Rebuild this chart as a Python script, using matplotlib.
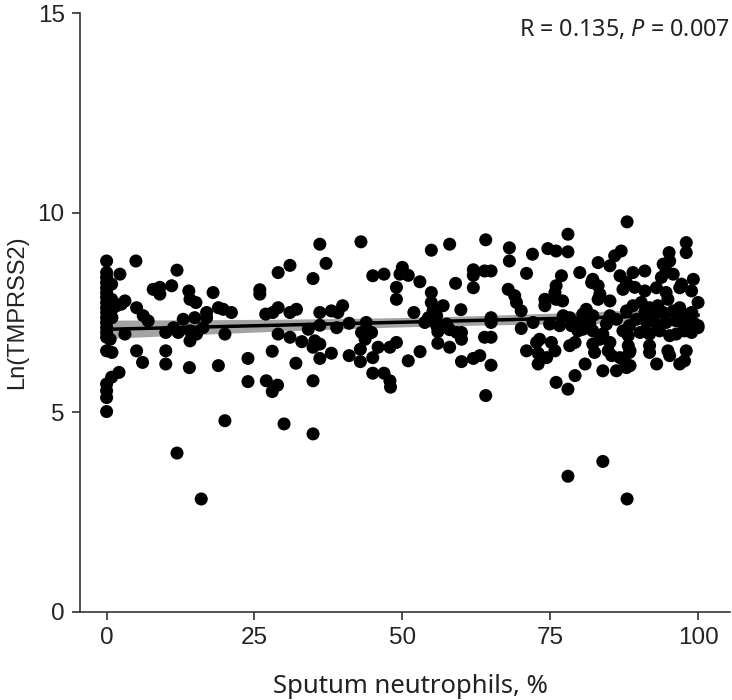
import numpy as np
import matplotlib
matplotlib.use("Agg")
import matplotlib.pyplot as plt

# sputum neutrophils (%) and Ln(TMPRSS2)
neut = [
    0, 0, 0, 0, 0, 0, 0, 0, 0, 0, 0, 0, 0, 0, 0, 0, 0, 0, 0, 0,
    0.85, 0.85, 0.9, 0.9, 0.9, 0.6, 0.85, 2.1, 2.25, 1.7, 2.5, 3.1, 3.1,
    4.95, 5.07, 6.19, 7.03, 5.07, 6.08, 7.88, 9.0, 9.0, 11.0, 10.0, 10.0, 10.0,
    11.3, 12.1, 11.9, 13.9, 14.1, 15.1, 12.95, 14.9, 14.1, 14.1, 15.2, 14.0,
    16.9, 16.9, 16.3, 18.0, 18.9, 19.7, 21.1, 18.9, 20.0, 23.9, 23.9, 20.0, 11.9, 16.0,
    36.05, 43.0, 31.0, 29.0, 37.1, 34.9, 25.9, 25.9, 45.0, 46.9,
    26.9, 28.1, 29.0, 31.0, 32.1, 36.05, 38.0, 39.1, 39.9, 36.05, 34.1, 38.9,
    41.0, 43.9, 43.1, 44.8, 43.7, 29.0, 31.0, 33.0, 35.2, 36.05, 34.9, 28.0,
    32.0, 36.05, 38.0, 41.0, 42.9, 42.9, 45.0, 45.9, 47.9, 49.0, 45.0, 46.9,
    47.9, 48.0, 27.0, 28.9, 28.0, 34.9, 30.0, 34.9,
    54.9, 58.0, 64.1, 68.1, 68.1, 72.0, 74.6, 50.0, 49.6, 51.0, 49.0, 49.0,
    52.96, 62.0, 63.9, 65.0, 62.0, 62.0, 59.0, 71.0, 67.9, 69.0, 69.3, 70.1,
    74.1, 74.1, 54.9, 54.9, 56.9, 55.2, 55.8, 54.4, 51.95, 59.9, 53.8, 55.8,
    57.5, 58.0, 56.0, 59.2, 60.0, 60.0, 56.0, 58.0, 65.0, 65.0, 63.9, 65.0,
    70.1, 72.1, 53.0, 51.0, 60.0, 62.0, 63.1, 65.0, 71.0, 72.7, 72.96, 72.96,
    74.4, 64.1,
    88.0, 78.0, 76.0, 78.0, 87.0, 85.9, 83.1, 85.1, 80.0, 76.9, 76.0, 75.8,
    82.2, 83.1, 82.0, 83.4, 86.8, 87.9, 87.3, 89.0, 89.3, 76.0, 77.1, 83.1,
    85.1, 81.1, 80.5, 82.2, 77.2, 78.3, 76.6, 74.9, 78.6, 80.0, 81.7, 80.5,
    82.2, 79.7, 85.1, 84.5, 86.2, 87.9, 88.4, 87.3, 83.9, 83.4, 85.1, 82.2,
    82.5, 73.2, 75.2, 75.8, 78.3, 79.2, 84.8, 85.4, 86.8, 87.6, 88.4, 88.2,
    80.9, 83.9, 86.2, 87.9, 79.2, 76.0, 78.0, 83.9, 78.0, 88.0,
    98.0, 98.0, 95.1, 95.2, 94.1, 91.0, 94.6, 95.8, 93.8, 99.2, 97.2, 98.9,
    100.0, 91.0, 92.96, 94.6, 94.9, 96.9, 89.0, 90.4, 91.8, 93.2, 91.0, 92.7,
    94.1, 95.8, 96.9, 98.0, 98.9, 89.6, 91.3, 93.0, 94.6, 96.3, 97.5, 99.2,
    100.0, 90.2, 91.8, 93.5, 95.2, 96.3, 97.7, 98.9, 100.0, 88.2, 88.5, 91.8,
    91.8, 94.9, 95.2, 98.0, 97.7, 96.9, 93.0, 88.5,
]
tmprss2 = [
    8.79, 8.5, 8.38, 8.25, 8.12, 8.0, 7.88, 7.75, 7.62, 7.5, 7.37, 7.25, 7.12, 7.0, 6.88, 6.54, 5.71, 5.54, 5.37, 5.02,
    8.21, 7.83, 7.58, 7.37, 6.5, 6.83, 5.88, 6.0, 8.46, 7.67, 7.71, 7.79, 6.96,
    8.79, 7.62, 7.42, 7.29, 6.54, 6.25, 8.08, 8.13, 7.96, 8.17, 7.0, 6.54, 6.21,
    7.12, 7.0, 8.56, 8.04, 7.83, 7.75, 7.33, 7.37, 7.04, 6.79, 6.96, 6.12,
    7.5, 7.37, 7.12, 8.0, 7.62, 7.58, 7.5, 6.17, 6.96, 6.35, 5.77, 4.79, 3.98, 2.83,
    9.21, 9.27, 8.68, 8.5, 8.73, 8.35, 8.07, 7.96, 8.42, 8.46,
    7.46, 7.5, 7.62, 7.5, 7.58, 7.5, 7.54, 7.5, 7.67, 7.18, 7.08, 7.12,
    7.23, 7.25, 7.0, 7.0, 6.83, 6.96, 6.88, 6.77, 6.79, 6.71, 6.63, 6.53,
    6.23, 6.35, 6.48, 6.42, 6.58, 6.27, 6.37, 6.63, 6.63, 6.75, 5.98, 5.98,
    5.79, 5.63, 5.79, 5.68, 5.52, 5.79, 4.71, 4.46,
    9.06, 9.21, 9.32, 9.12, 8.79, 8.96, 9.1, 8.63, 8.46, 8.43, 8.13, 7.83,
    8.27, 8.57, 8.54, 8.54, 8.43, 8.12, 8.23, 8.48, 8.08, 7.92, 7.75, 7.54,
    7.83, 7.67, 8.0, 7.75, 7.67, 7.54, 7.42, 7.37, 7.5, 7.57, 7.25, 7.17,
    7.21, 7.07, 7.02, 7.0, 7.0, 6.83, 6.73, 6.63, 7.37, 7.25, 6.88, 6.88,
    7.1, 7.25, 6.52, 6.29, 6.27, 6.35, 6.42, 6.18, 6.54, 6.75, 6.48, 6.21,
    6.37, 5.42,
    9.77, 9.46, 9.04, 9.02, 9.04, 8.92, 8.75, 8.67, 8.5, 8.42, 8.17, 8.0,
    8.33, 8.17, 8.25, 7.96, 8.42, 8.25, 8.08, 8.5, 8.13, 7.83, 7.79, 7.83,
    7.79, 7.58, 7.46, 7.42, 7.42, 7.37, 7.17, 7.21, 7.17, 7.25, 7.21, 7.08,
    7.04, 7.04, 7.42, 7.21, 7.33, 7.54, 7.17, 7.04, 6.96, 6.83, 6.75, 6.71,
    6.5, 6.83, 6.75, 6.54, 6.67, 6.75, 6.54, 6.42, 6.37, 6.25, 6.5, 6.67,
    6.21, 6.04, 6.04, 6.12, 5.92, 5.75, 5.58, 3.77, 3.4, 2.83,
    9.25, 9.0, 9.0, 8.79, 8.71, 8.54, 8.54, 8.46, 8.38, 8.33, 8.21, 8.04,
    7.75, 8.04, 8.12, 8.0, 7.83, 8.12, 7.67, 7.75, 7.62, 7.67, 7.5, 7.46,
    7.5, 7.54, 7.62, 7.42, 7.5, 7.33, 7.25, 7.21, 7.25, 7.29, 7.21, 7.25,
    7.17, 7.0, 6.96, 7.04, 6.92, 6.96, 7.04, 7.0, 7.12, 6.92, 6.54, 6.67,
    6.5, 6.54, 6.42, 6.54, 6.29, 6.21, 6.21, 6.17,
]
x_ticks = [0, 25, 50, 75, 100]
y_ticks = [0, 5, 10, 15]
stat_text = r"R = 0.135, $\mathit{P}$ = 0.007"

plt.rcParams["mathtext.fontset"] = "custom"
plt.rcParams["mathtext.rm"] = "Noto Sans"
plt.rcParams["mathtext.it"] = "Noto Sans:italic"

x = np.array(neut)
y = np.array(tmprss2)

# linear fit + 95% confidence band
slope, icpt = np.polyfit(x, y, 1)
xs = np.linspace(x.min(), x.max(), 100)
ys = icpt + slope * xs
n = len(x)
resid = y - (icpt + slope * x)
s = np.sqrt(np.sum(resid ** 2) / (n - 2))
se = s * np.sqrt(1 / n + (xs - x.mean()) ** 2 / np.sum((x - x.mean()) ** 2))
ci = 1.97 * se

fig = plt.figure(figsize=(7.32, 7.0), dpi=100)
ax = fig.add_axes([80 / 732, 88 / 700, 650 / 732, 599 / 700])

ax.scatter(x, y, s=88, c="black", edgecolors="none", zorder=3)
ax.fill_between(xs, ys - ci, ys + ci, color="#8c8c8c", alpha=0.8, lw=0, zorder=2)
ax.plot(xs, ys, color="black", lw=2.5, zorder=4)

ax.set_xlim(-4.5, 105.4)
ax.set_ylim(0, 15)
ax.set_xticks(x_ticks)
ax.set_yticks(y_ticks)
for side in ["top", "right"]:
    ax.spines[side].set_visible(False)
for side in ["left", "bottom"]:
    ax.spines[side].set_color("#333333")
    ax.spines[side].set_linewidth(1.2)
ax.tick_params(length=6, width=1.2, color="#333333", labelsize=17.5,
               labelcolor="#222222", pad=5)
for lab in ax.get_xticklabels() + ax.get_yticklabels():
    lab.set_fontfamily("Liberation Sans")

ax.set_xlabel("Sputum neutrophils, %", fontsize=18.5, family="Noto Sans", color="#222222")
ax.set_ylabel("Ln(TMPRSS2)", fontsize=17, family="Liberation Sans", color="#222222")
ax.xaxis.label.set_va("baseline")
ax.xaxis.set_label_coords(0.508, -0.135)
ax.yaxis.set_label_coords(-0.08, 0.5)

fig.text(0.997, 1 - 36 / 700, stat_text, ha="right", va="baseline", fontsize=16.8,
         family="Noto Sans", color="#222222")

fig.savefig("out.png", dpi=100)
